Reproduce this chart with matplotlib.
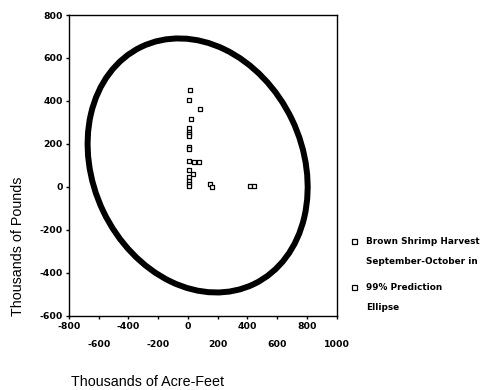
#!/usr/bin/env python3
"""Brown shrimp harvest vs. freshwater inflow with 99% prediction ellipse."""

import matplotlib

matplotlib.use("Agg")
import matplotlib.pyplot as plt
import numpy as np
from matplotlib.lines import Line2D
from matplotlib.patches import Ellipse

# Harvest observations (thousands of acre-feet, thousands of pounds)
inflow = [13, 9, 80, 20, 9, 9, 9, 9, 9, 10, 9, 42, 75, 9, 35, 9, 9, 9, 9, 147, 162, 418, 447]
harvest = [450, 403, 363, 316, 272, 258, 247, 238, 185, 178, 121, 118, 115, 79, 59, 48, 30, 15, 3, 13, 1, 5, 5]

# 99% prediction ellipse: extents on each axis and the x-y correlation
ellipse_x_range = (-675, 805)
ellipse_y_range = (-491, 691)
ellipse_corr = -0.17

x_major = [-800, -400, 0, 400, 800]
x_minor = [-600, -200, 200, 600, 1000]
y_ticks = [-600, -400, -200, 0, 200, 400, 600, 800]

legend_labels = [
    ("Brown Shrimp Harvest", "September-October in"),
    ("99% Prediction", "Ellipse"),
]

TICK_FONT = dict(family="DejaVu Sans", size=6.7, weight="bold")
LEGEND_FONT = dict(family="DejaVu Sans", size=6.4, weight="bold")
LABEL_FONT = dict(family="Liberation Sans", size=10.3)


def ellipse_patch():
    cx = sum(ellipse_x_range) / 2
    cy = sum(ellipse_y_range) / 2
    rx = (ellipse_x_range[1] - ellipse_x_range[0]) / 2
    ry = (ellipse_y_range[1] - ellipse_y_range[0]) / 2
    cov = np.array([[rx * rx, rx * ry * ellipse_corr], [rx * ry * ellipse_corr, ry * ry]])
    vals, vecs = np.linalg.eigh(cov)
    angle = np.degrees(np.arctan2(vecs[1, 1], vecs[0, 1]))
    return Ellipse(
        (cx, cy),
        width=2 * np.sqrt(vals[1]),
        height=2 * np.sqrt(vals[0]),
        angle=angle,
        fill=False,
        edgecolor="black",
        linewidth=4.3,
        zorder=2,
    )


fig = plt.figure(figsize=(4.84, 3.9), dpi=100)
ax = fig.add_axes([0.1426, 0.19, 0.553, 0.7715])

ax.add_patch(ellipse_patch())
ax.scatter(inflow, harvest, marker="s", s=11, facecolor="white", edgecolor="black", linewidth=0.9, zorder=3)

ax.set_xlim(-800, 1000)
ax.set_ylim(-600, 800)

ax.set_xticks(x_major)
ax.set_xticklabels([str(v) for v in x_major], fontdict=TICK_FONT)
ax.set_xticks(x_minor, minor=True)
ax.set_xticklabels([str(v) for v in x_minor], minor=True, fontdict=TICK_FONT)
ax.set_yticks(y_ticks)
ax.set_yticklabels([str(v) for v in y_ticks], fontdict=TICK_FONT)

ax.tick_params(axis="both", which="both", direction="out", length=2.5, width=1.0, color="black")
ax.tick_params(axis="x", which="major", pad=2)
ax.tick_params(axis="x", which="minor", pad=15)
ax.tick_params(axis="y", pad=2)
for spine in ax.spines.values():
    spine.set_linewidth(1.0)

fig.text(0.305, 0.02, "Thousands of Acre-Feet", ha="center", va="center", **LABEL_FONT)
fig.text(0.037, 0.369, "Thousands of Pounds", ha="center", va="center", rotation=90, **LABEL_FONT)

# legend drawn by hand so the marker sits on the first line of each entry
legend_rows = [0.382, 0.264]
for (line1, line2), y in zip(legend_labels, legend_rows):
    fig.add_artist(
        Line2D([0.732], [y], transform=fig.transFigure, marker="s", markersize=3.6,
               markerfacecolor="white", markeredgecolor="black", markeredgewidth=0.9, linestyle="none")
    )
    fig.text(0.757, y, line1, ha="left", va="center", **LEGEND_FONT)
    fig.text(0.757, y - 0.053, line2, ha="left", va="center", **LEGEND_FONT)

fig.savefig("out.png", dpi=100)
